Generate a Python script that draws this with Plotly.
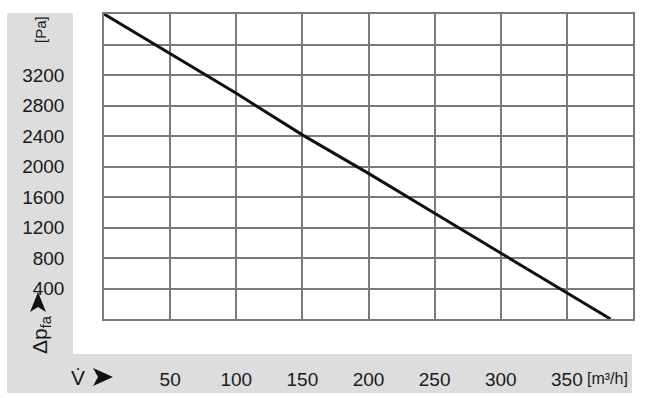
import plotly.graph_objects as go

# Data
flow = [0, 50, 100, 150, 200, 250, 300, 350, 383]          # m3/h
pressure = [4000, 3480, 2960, 2415, 1910, 1386, 865, 345, 0]  # Pa

x_ticks = [50, 100, 150, 200, 250, 300, 350]
x_text = ["50", "100", "150", "200", "250", "300", "350"]
y_ticks = [400, 800, 1200, 1600, 2000, 2400, 2800, 3200]
y_text = ["400", "800", "1200", "1600", "2000", "2400", "2800", "3200"]

W, H = 647, 398
L, R, T, B = 104, 14, 14, 79
pw, ph = W - L - R, H - T - B

def px(x):
    return (x - L) / pw

def py(y):
    return (H - B - y) / ph

GRAY = "#dddddd"
GRID = "#7a7a7a"
FONT = "Liberation Sans"
TXT = "#1a1a1a"

fig = go.Figure()
fig.add_trace(go.Scatter(x=flow, y=pressure, mode="lines",
                         line=dict(color="#111111", width=3), hoverinfo="skip"))

shapes = [
    dict(type="rect", xref="paper", yref="paper", x0=px(7), x1=px(73), y0=py(354), y1=py(13),
         fillcolor=GRAY, line=dict(width=0), layer="below"),
    dict(type="rect", xref="paper", yref="paper", x0=px(7), x1=px(632), y0=py(393), y1=py(354),
         fillcolor=GRAY, line=dict(width=0), layer="below"),
    # arrowhead after V-dot (pointing right)
    dict(type="path", xref="paper", yref="paper",
         path=f"M {px(93)} {py(368)} L {px(113)} {py(377)} L {px(93)} {py(386)} L {px(98)} {py(377)} Z",
         fillcolor="#111111", line=dict(width=0)),
    # arrowhead under y label (pointing up)
    dict(type="path", xref="paper", yref="paper",
         path=f"M {px(30)} {py(312)} L {px(38)} {py(292)} L {px(46)} {py(312)} L {px(38)} {py(307)} Z",
         fillcolor="#111111", line=dict(width=0)),
]

annotations = [
    dict(text="V̇", xref="paper", yref="paper", x=px(78), y=py(377), showarrow=False,
         font=dict(family=FONT, size=21, color=TXT), xanchor="center", yanchor="middle"),
    dict(text="[m³/h]", xref="paper", yref="paper", x=px(585), y=py(378), showarrow=False,
         font=dict(family=FONT, size=16, color=TXT), xanchor="left", yanchor="middle"),
    dict(text="[Pa]", xref="paper", yref="paper", x=px(40), y=py(30), showarrow=False,
         textangle=-90, font=dict(family=FONT, size=15, color=TXT),
         xanchor="center", yanchor="middle"),
    dict(text="Δp<sub>fa</sub>", xref="paper", yref="paper", x=px(41), y=py(335), showarrow=False,
         textangle=-90, font=dict(family=FONT, size=21, color=TXT),
         xanchor="center", yanchor="middle"),
]

fig.update_layout(
    width=W, height=H,
    margin=dict(l=L, r=R, t=T, b=B, autoexpand=False),
    paper_bgcolor="white", plot_bgcolor="white",
    showlegend=False,
    shapes=shapes, annotations=annotations,
    font=dict(family=FONT, size=19, color=TXT),
)
fig.update_xaxes(range=[0, 400], tickvals=x_ticks, ticktext=x_text, showgrid=True,
                 gridcolor=GRID, gridwidth=1.5, showline=True, linecolor=GRID, linewidth=1.5,
                 mirror=True, zeroline=False, ticks="", ticklabelstandoff=42, automargin=False,
                 minor=dict(dtick=50, tick0=0, showgrid=True, gridcolor=GRID, gridwidth=1.5),
                 tickfont=dict(family=FONT, size=19, color=TXT))
fig.update_yaxes(range=[0, 4000], tickvals=y_ticks, ticktext=y_text, showgrid=True,
                 gridcolor=GRID, gridwidth=1.5, showline=True, linecolor=GRID, linewidth=1.5,
                 mirror=True, zeroline=False, ticks="", ticklabelstandoff=34, automargin=False,
                 minor=dict(dtick=400, tick0=0, showgrid=True, gridcolor=GRID, gridwidth=1.5),
                 tickfont=dict(family=FONT, size=19, color=TXT))

fig.write_html("out.html", config={"displayModeBar": False},
               post_script="document.body.style.margin='0';")
